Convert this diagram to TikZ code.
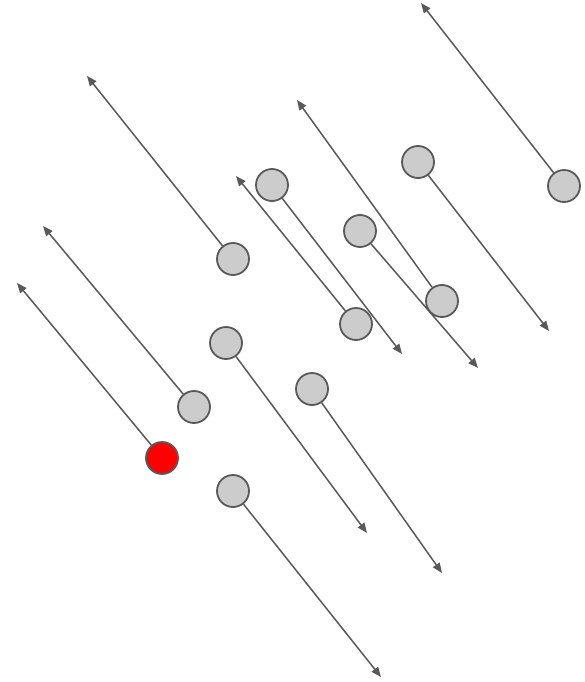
\documentclass[tikz,border=0pt]{standalone}
\usepackage{tikz}
\usetikzlibrary{arrows.meta}
\definecolor{edgegray}{HTML}{595959}
\definecolor{dotgray}{HTML}{CCCCCC}

\begin{document}
\begin{tikzpicture}[
  x=1pt, y=-1pt,
  dot/.style={draw=edgegray, circle, fill=dotgray, line width=1.8pt, minimum size=32pt, inner sep=0pt},
  hot/.style={dot, fill=red},
  arr/.style={-{Triangle[length=10pt, width=8pt]}, draw=edgegray, line width=1.5pt},
]
  \useasboundingbox (0,0) rectangle (585,682);

  % particles
  \node[dot] (p1) at (564,186) {};
  \node[dot] (p2) at (418,162) {};
  \node[dot] (p3) at (272,185) {};
  \node[dot] (p4) at (360,231) {};
  \node[dot] (p5) at (442,301) {};
  \node[dot] (p6) at (356,324) {};
  \node[dot] (p7) at (233,259) {};
  \node[dot] (p8) at (226,343) {};
  \node[dot] (p9) at (312,389) {};
  \node[dot] (p10) at (194,407) {};
  \node[hot] (p11) at (162,458) {};
  \node[dot] (p12) at (233,491) {};

  % velocity tips
  \coordinate (v1) at (421,3);
  \coordinate (v2) at (549,331);
  \coordinate (v3) at (402,354);
  \coordinate (v4) at (478,368);
  \coordinate (v5) at (297,100);
  \coordinate (v6) at (236,176);
  \coordinate (v7) at (87,76);
  \coordinate (v8) at (367,533);
  \coordinate (v9) at (442,573);
  \coordinate (v10) at (43,226);
  \coordinate (v11) at (17,283);
  \coordinate (v12) at (381,677);

  \foreach \i in {1,...,12}
    \draw[arr] (p\i) -- (v\i);
\end{tikzpicture}
\end{document}
